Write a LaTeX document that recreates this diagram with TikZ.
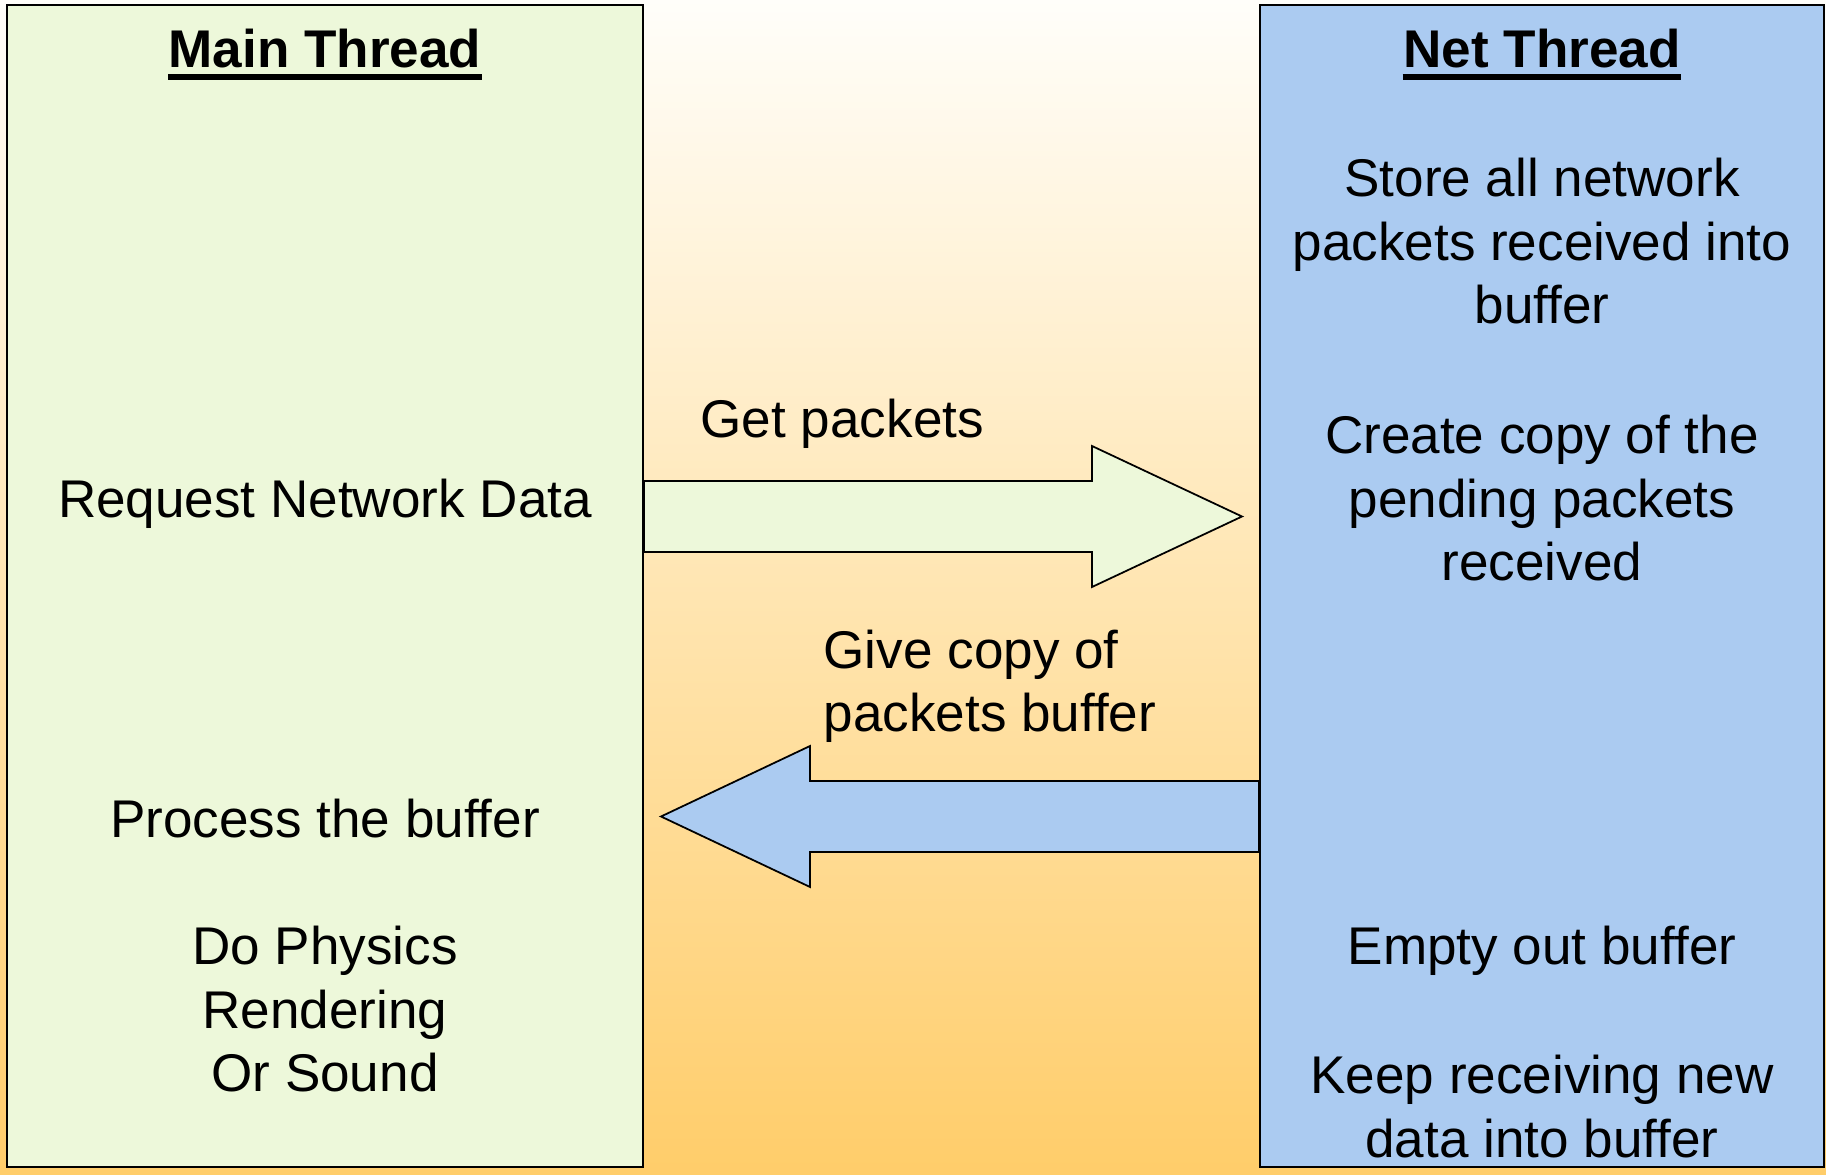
\documentclass[tikz,border=0pt]{standalone}
\usepackage{fontspec}
\setmainfont{Liberation Sans}
\definecolor{mintfill}{RGB}{237,248,218}
\definecolor{skyfill}{RGB}{171,203,241}
\definecolor{sandtop}{RGB}{255,254,250}
\definecolor{sandbot}{RGB}{255,205,106}
\newcommand{\slidefont}{\fontsize{15.1}{18.2}\selectfont}
\tikzset{
  threadbox/.style={draw, line width=0.6pt, inner sep=0pt, minimum height=11.62cm},
  txt/.style={font=\slidefont, align=center, inner sep=0pt, anchor=base},
  headtxt/.style={txt, font=\slidefont\bfseries},
  blockarrow/.style={draw, line width=0.5pt, line join=miter}
}
\begin{document}
\begin{tikzpicture}
\useasboundingbox (0, 0) rectangle (18.26, 11.74);
\shade [top color=sandtop, bottom color=sandbot] (0, 0) rectangle (18.26, 11.74);
% the two threads
\node [threadbox, fill=mintfill, minimum width=6.36cm] (main) at (3.25, 5.88) {};
\node [threadbox, fill=skyfill, minimum width=5.64cm] (net) at (15.42, 5.88) {};
% block arrows between them
\draw [blockarrow, fill=mintfill] (main.east |- 0, 6.93) -- (10.92, 6.93) -- (10.92, 7.28) -- (12.42, 6.575)
      -- (10.92, 5.87) -- (10.92, 6.22) -- (main.east |- 0, 6.22) -- cycle;
\draw [blockarrow, fill=skyfill] (net.west |- 0, 3.93) -- (8.10, 3.93) -- (8.10, 4.28) -- (6.61, 3.575)
      -- (8.10, 2.87) -- (8.10, 3.22) -- (net.west |- 0, 3.22) -- cycle;
% headings
\node [headtxt] (mainhead) at (3.25, 11.06) {Main Thread};
\draw [line width=1.5pt] ([yshift=-2.6pt]mainhead.base west) -- ([yshift=-2.6pt]mainhead.base east);
\node [headtxt] (nethead) at (15.42, 11.06) {Net Thread};
\draw [line width=1.5pt] ([yshift=-2.6pt]nethead.base west) -- ([yshift=-2.6pt]nethead.base east);
% main thread steps
\node [txt] (request) at (3.25, 6.56) {Request Network Data};
\node [txt] (process) at (3.25, 3.36) {Process the buffer};
\node [txt] (physics) at (3.25, 0.82) {Do Physics\\Rendering\\Or Sound};
% net thread steps
\node [txt] (store) at (15.42, 8.50) {Store all network\\packets received into\\buffer};
\node [txt] (copy) at (15.42, 5.93) {Create copy of the\\pending packets\\received};
\node [txt] (empty) at (15.42, 2.10) {Empty out buffer};
\node [txt] (keep) at (15.42, 0.17) {Keep receiving new\\data into buffer};
% arrow labels
\node [txt, anchor=base west] (getlbl) at (7.00, 7.36) {Get packets};
\node [txt, anchor=base west, align=left] (givelbl) at (8.23, 4.42) {Give copy of\\packets buffer};
\end{tikzpicture}
\end{document}
